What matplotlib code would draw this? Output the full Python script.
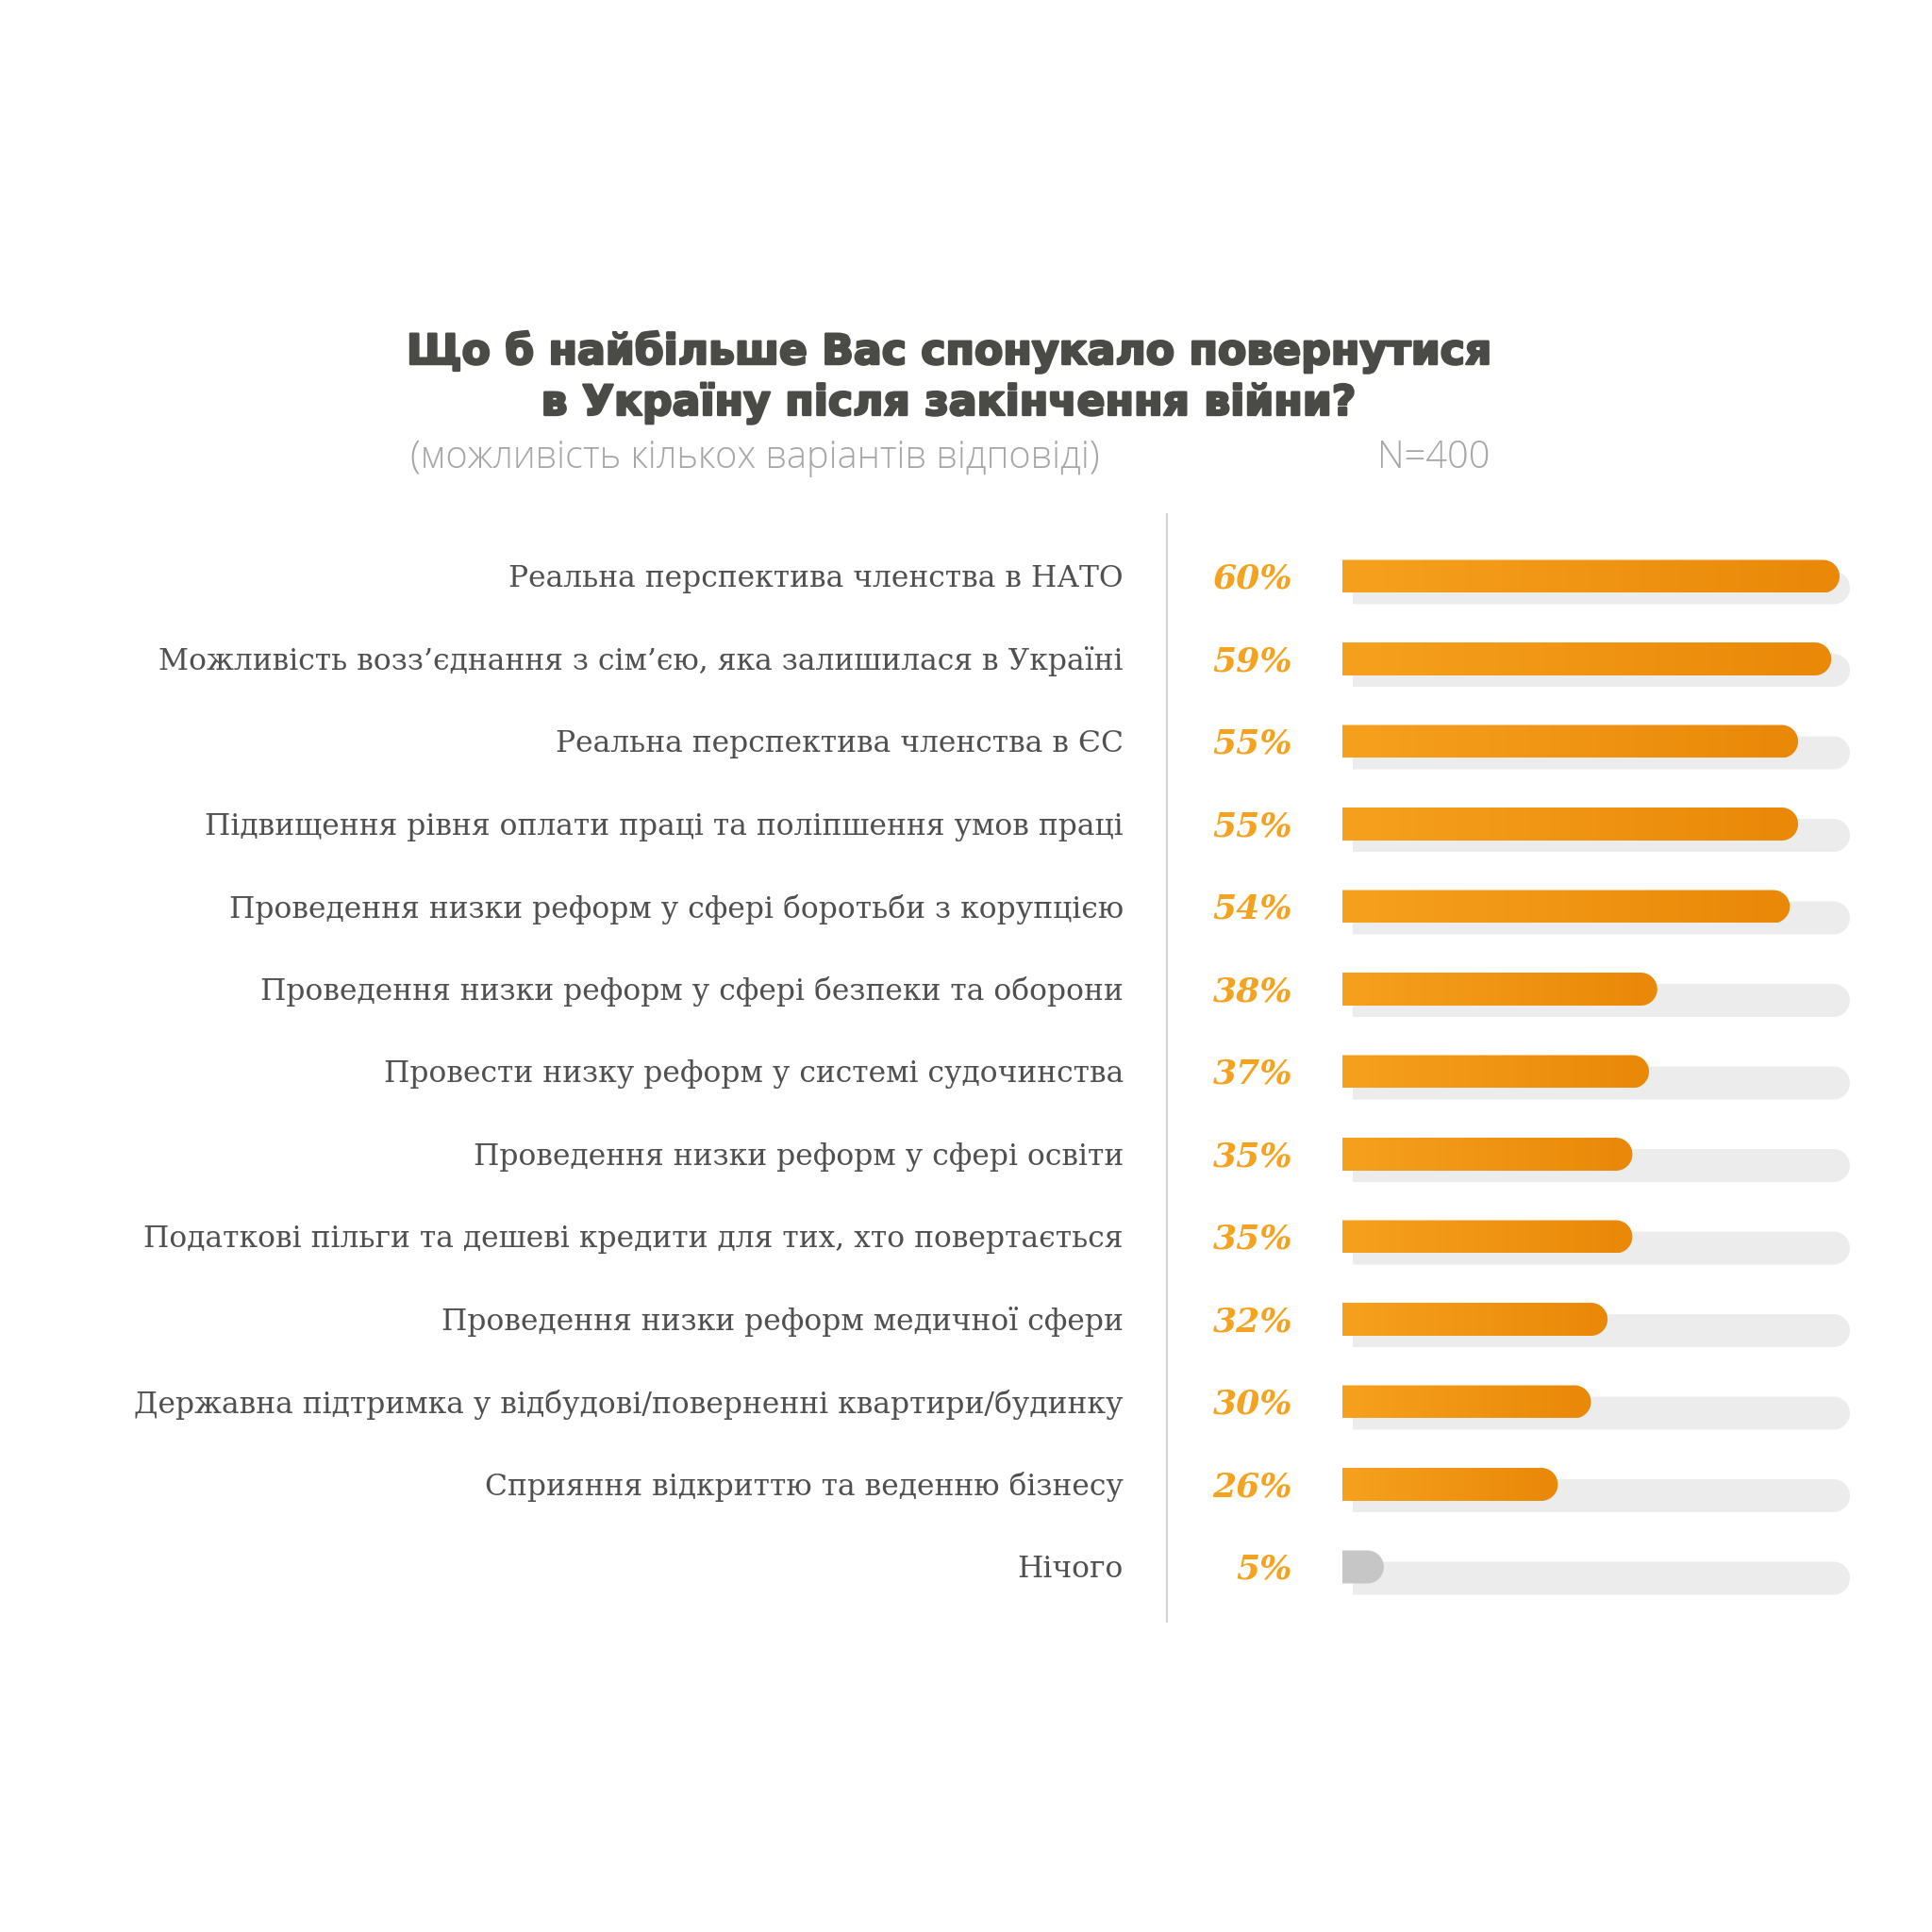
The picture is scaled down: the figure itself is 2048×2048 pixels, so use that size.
import numpy as np
import matplotlib.pyplot as plt
from matplotlib.colors import LinearSegmentedColormap
from matplotlib.patches import Polygon
from matplotlib.lines import Line2D
import matplotlib.transforms as mtransforms
import matplotlib.patheffects as pe

categories = [
    "Реальна перспектива членства в НАТО",
    "Можливість возз’єднання з сім’єю, яка залишилася в Україні",
    "Реальна перспектива членства в ЄС",
    "Підвищення рівня оплати праці та поліпшення умов праці",
    "Проведення низки реформ у сфері боротьби з корупцією",
    "Проведення низки реформ у сфері безпеки та оборони",
    "Провести низку реформ у системі судочинства",
    "Проведення низки реформ у сфері освіти",
    "Податкові пільги та дешеві кредити для тих, хто повертається",
    "Проведення низки реформ медичної сфери",
    "Державна підтримка у відбудові/поверненні квартири/будинку",
    "Сприяння відкриттю та веденню бізнесу",
    "Нічого",
]
values = [60, 59, 55, 55, 54, 38, 37, 35, 35, 32, 30, 26, 5]
title = "Що б найбільше Вас спонукало повернутися\nв Україну після закінчення війни?"
subtitle = "(можливість кількох варіантів відповіді)"
sample = "N=400"

W = 2048
fig = plt.figure(figsize=(10.24, 10.24), dpi=200)
fig.patch.set_facecolor("white")

# layout in pixels
row0, step = 611, 87.5
top_px, bot_px = 545, 1719
x0_px, xend_px, right_px = 1423, 1950, 1990
bar_h = 35 / step
cap_px = 17.5

ax = fig.add_axes([x0_px / W, 1 - bot_px / W, (right_px - x0_px) / W, (bot_px - top_px) / W])
px_per_unit = (xend_px - x0_px) / max(values)
xmax = (right_px - x0_px) / px_per_unit
ylim = ((bot_px - row0) / step, (top_px - row0) / step)
ax.axis("off")

rx = cap_px / px_per_unit
ry = bar_h / 2


def bar_shape(length, yc):
    t = np.linspace(-np.pi / 2, np.pi / 2, 40)
    xs = list(length - rx + rx * np.cos(t))
    ys = list(yc + ry * np.sin(t))
    return [(0, yc - ry)] + list(zip(xs, ys)) + [(0, yc + ry)]


shadow = mtransforms.offset_copy(ax.transData, fig=fig, x=11 / 200 * 72, y=-12 / 200 * 72, units="points")
cmap = LinearSegmentedColormap.from_list("og", ["#F6A11E", "#EA8808"])
grad = np.linspace(0, 1, 256).reshape(1, -1)

for i, v in enumerate(values):
    track = Polygon(bar_shape(max(values), i), closed=True, facecolor="#ECECEC",
                    edgecolor="none", transform=shadow, zorder=1)
    ax.add_patch(track)
    if categories[i] == "Нічого":
        p = Polygon(bar_shape(v, i), closed=True, facecolor="#C6C6C6", edgecolor="none", zorder=2)
        ax.add_patch(p)
    else:
        p = Polygon(bar_shape(v, i), closed=True, facecolor="none", edgecolor="none", zorder=2)
        ax.add_patch(p)
        im = ax.imshow(grad, cmap=cmap, extent=(0, v, i + ry, i - ry), aspect="auto", zorder=2)
        im.set_clip_path(p)

ax.set_xlim(0, xmax)
ax.set_ylim(*ylim)

lbl_tr = mtransforms.blended_transform_factory(fig.transFigure, ax.transData)
for i, (c, v) in enumerate(zip(categories, values)):
    ax.text(1191 / W, i + 0.03, c, transform=lbl_tr, ha="right", va="center",
            fontsize=11.3, family="DejaVu Serif", color="#505050", clip_on=False)
    ax.text(1370 / W, i + 0.03, f"{v}%", transform=lbl_tr, ha="right", va="center",
            fontsize=13, family="DejaVu Serif", weight="bold", style="italic",
            color="#F5A21F", clip_on=False)

fig.add_artist(Line2D([1237 / W, 1237 / W], [1 - top_px / W, 1 - bot_px / W],
                      color="#D2D2D2", lw=0.8))

t = fig.text(1006 / W, 1 - 400 / W, title, ha="center", va="center", fontsize=15.9,
             family="DejaVu Sans", weight="bold", color="#4A4A46", linespacing=1.3)
t.set_path_effects([pe.withStroke(linewidth=0.9, foreground="#4A4A46")])
fig.text(435 / W, 1 - 486 / W, subtitle, ha="left", va="center", fontsize=14.3,
         family="Open Sans", weight="light", color="#A6A6A6")
fig.text(1579 / W, 1 - 486 / W, sample, ha="right", va="center", fontsize=14.3,
         family="Open Sans", weight="light", color="#A6A6A6")

fig.savefig("out.png", dpi=200, facecolor="white")
